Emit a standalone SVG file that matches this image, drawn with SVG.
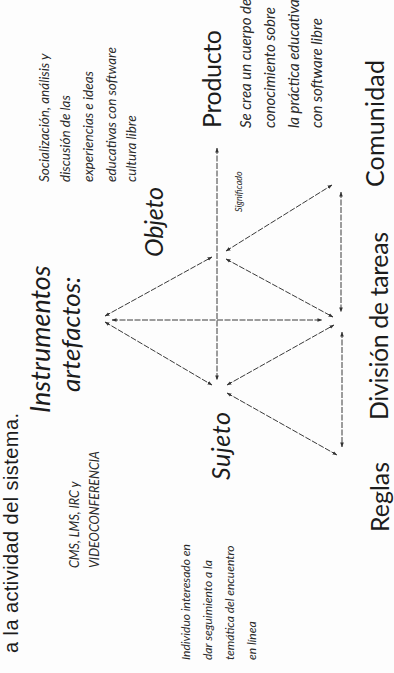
<svg xmlns="http://www.w3.org/2000/svg" width="394" height="673" viewBox="0 0 394 673">
<defs>
<marker id="ah" viewBox="0 0 6 6" refX="5.5" refY="3" markerWidth="5" markerHeight="5" orient="auto-start-reverse"><path d="M0,0.8 L6,3 L0,5.2 z" fill="#333"/></marker>
<style>
text{font-family:Lato,"Open Sans","Liberation Sans",sans-serif;fill:#1c1c1c}
.big{font-size:25px}
.it{font-style:italic}
.sm{font-size:12.5px;font-style:italic;fill:#2a2a2a}
.sent{font-family:"Liberation Sans",Arial,sans-serif;font-size:20px}
.conn line{stroke:#3a3a3a;stroke-width:1;stroke-dasharray:6 1.5;marker-start:url(#ah);marker-end:url(#ah)}
</style>
</defs>
<rect width="394" height="673" fill="#fdfdfd"/>

<text class="sent" transform="translate(18,653) rotate(-90)" textLength="240">a la actividad del sistema.</text>

<g id="instrumentos">
<text class="it" style="font-size:27px" transform="translate(50,413) rotate(-90)">Instrumentos</text>
<text class="it" style="font-size:26px" transform="translate(80,392) rotate(-90)">artefactos:</text>
</g>
<g id="instrumentos-nota">
<text class="sm" transform="translate(79,568) rotate(-90)">CMS, LMS, IRC y</text>
<text class="sm" transform="translate(99,568) rotate(-90)">VIDEOCONFERENCIA</text>
</g>

<g id="sujeto">
<text class="big it" transform="translate(230,480) rotate(-90)" textLength="68">Sujeto</text>
</g>
<g id="sujeto-nota">
<text class="sm" style="font-size:12px" transform="translate(190,660) rotate(-90)">Individuo interesado en</text>
<text class="sm" style="font-size:12px" transform="translate(212,660) rotate(-90)">dar seguimiento a la</text>
<text class="sm" style="font-size:12px" transform="translate(234,660) rotate(-90)">temática del encuentro</text>
<text class="sm" style="font-size:12px" transform="translate(256,660) rotate(-90)">en línea</text>
</g>

<g id="objeto">
<text class="big it" transform="translate(163,257) rotate(-90)" textLength="70">Objeto</text>
</g>
<g id="objeto-nota">
<text class="sm" style="font-size:13.5px" transform="translate(49,182) rotate(-90)">Socialización, análisis y</text>
<text class="sm" style="font-size:13.5px" transform="translate(70,182) rotate(-90)">discusión de las</text>
<text class="sm" style="font-size:13.5px" transform="translate(93,182) rotate(-90)">experiencias e ideas</text>
<text class="sm" style="font-size:13.5px" transform="translate(116,182) rotate(-90)">educativas con software</text>
<text class="sm" style="font-size:13.5px" transform="translate(136,182) rotate(-90)">cultura libre</text>
</g>

<g id="significado">
<text class="sm" style="font-size:9px" transform="translate(242,212) rotate(-90)">Significado</text>
</g>

<g id="producto">
<text class="big" transform="translate(221,128) rotate(-90)" textLength="98">Producto</text>
</g>
<g id="producto-nota">
<text class="sm" style="font-size:15px" transform="translate(251,128) rotate(-90)">Se crea un cuerpo de</text>
<text class="sm" style="font-size:15px" transform="translate(275,128) rotate(-90)">conocimiento sobre</text>
<text class="sm" style="font-size:15px" transform="translate(299,128) rotate(-90)">la práctica educativa</text>
<text class="sm" style="font-size:15px" transform="translate(322,128) rotate(-90)">con software libre</text>
</g>

<g id="comunidad">
<text class="big" transform="translate(384,187) rotate(-90)" textLength="127">Comunidad</text>
</g>
<g id="division">
<text class="big" transform="translate(388,420) rotate(-90)" textLength="188">División de tareas</text>
</g>
<g id="reglas">
<text class="big" transform="translate(389,532) rotate(-90)" textLength="70">Reglas</text>
</g>

<g id="connectors" class="conn">
<line x1="105" y1="316" x2="212" y2="257"/>
<line x1="105" y1="322" x2="212" y2="385"/>
<line x1="112" y1="320" x2="322" y2="320"/>
<line x1="217" y1="148" x2="217" y2="380"/>
<line x1="226" y1="251" x2="332" y2="185"/>
<line x1="226" y1="259" x2="333" y2="317"/>
<line x1="227" y1="385" x2="334" y2="325"/>
<line x1="227" y1="393" x2="337" y2="455"/>
<line x1="341" y1="192" x2="341" y2="312"/>
<line x1="342" y1="332" x2="342" y2="447"/>
</g>
</svg>
